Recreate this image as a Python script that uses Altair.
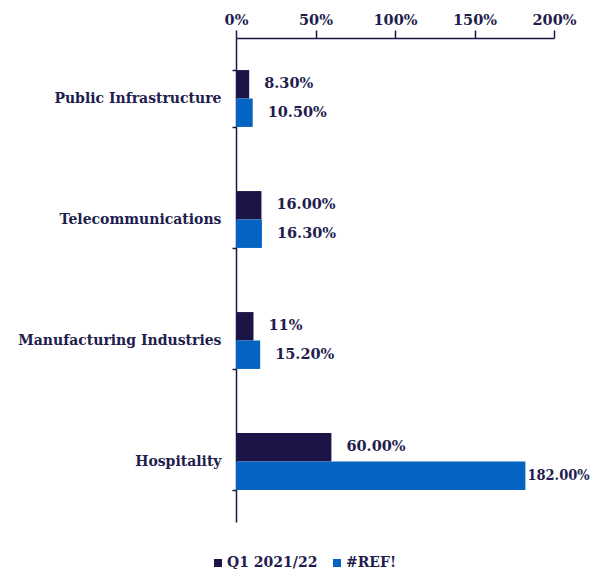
import altair as alt
import pandas as pd

categories = ["Public Infrastructure", "Telecommunications", "Manufacturing Industries", "Hospitality"]
series = ["Q1 2021/22", "#REF!"]
q1_values = [8.3, 16.0, 11.0, 60.0]
ref_values = [10.5, 16.3, 15.2, 182.0]
q1_labels = ["8.30%", "16.00%", "11%", "60.00%"]
ref_labels = ["10.50%", "16.30%", "15.20%", "182.00%"]
x_ticks = [0, 50, 100, 150, 200]

rows = []
for c, v, l in zip(categories, q1_values, q1_labels):
    rows.append({"category": c, "series": series[0], "value": v, "label": l})
for c, v, l in zip(categories, ref_values, ref_labels):
    rows.append({"category": c, "series": series[1], "value": v, "label": l})
df = pd.DataFrame(rows)

NAVY = "#1b1547"
BLUE = "#0563c1"
TEXT = "#221d4e"
FONT = "DejaVu Serif"

y_enc = alt.Y("category:N", sort=categories, title=None,
              scale=alt.Scale(paddingInner=0.53, paddingOuter=0.265),
              axis=alt.Axis(tickBand="extent", tickSize=4, tickColor=NAVY, domainColor=NAVY,
                            domainWidth=1.5, tickWidth=1.5,
                            labelFont=FONT, labelFontWeight="bold", labelFontSize=14,
                            labelColor=TEXT, labelPadding=11, labelLimit=300))
yoff = alt.YOffset("series:N", sort=series)
x_enc = alt.X("value:Q", title=None,
              scale=alt.Scale(domain=[0, 200]),
              axis=alt.Axis(orient="top", values=x_ticks, grid=False,
                            labelExpr="datum.value + '%'", labelFlush=False,
                            tickSize=8, tickColor=NAVY, domainColor=NAVY,
                            domainWidth=1.5, tickWidth=1.5,
                            labelFont=FONT, labelFontWeight="bold", labelFontSize=14.5,
                            labelColor=TEXT, labelPadding=3))

bars = alt.Chart(df).mark_bar().encode(
    x=x_enc,
    y=y_enc,
    yOffset=yoff,
    color=alt.Color("series:N", sort=series,
                    scale=alt.Scale(domain=series, range=[NAVY, BLUE]),
                    legend=alt.Legend(orient="none", legendX=-25, legendY=518,
                                      direction="horizontal", title=None,
                                      symbolType="square", symbolSize=64,
                                      symbolStrokeWidth=0,
                                      labelFont=FONT, labelFontWeight="bold",
                                      labelFontSize=14, labelColor=TEXT,
                                      columnPadding=12, labelOffset=2)),
)

text_small = alt.Chart(df).transform_filter("datum.value < 150").mark_text(
    align="left", baseline="middle", dx=15, font=FONT, fontWeight="bold",
    fontSize=14.5, color=TEXT
).encode(x="value:Q", y=alt.Y("category:N", sort=categories), yOffset=yoff, text="label:N")

text_big = alt.Chart(df).transform_filter("datum.value >= 150").mark_text(
    align="left", baseline="middle", dx=2, font="DejaVu Serif Condensed, DejaVu Serif",
    fontWeight="bold", fontSize=14.5, color=TEXT
).encode(x="value:Q", y=alt.Y("category:N", sort=categories), yOffset=yoff, text="label:N")

chart = alt.layer(bars, text_small, text_big).properties(
    width=318, height=484,
    padding={"left": 228, "top": 30, "right": 37, "bottom": 47},
    autosize=alt.AutoSizeParams(type="none"),
).configure_view(stroke=None)

chart.save("out.html", embed_options={"renderer": "svg", "actions": False})
